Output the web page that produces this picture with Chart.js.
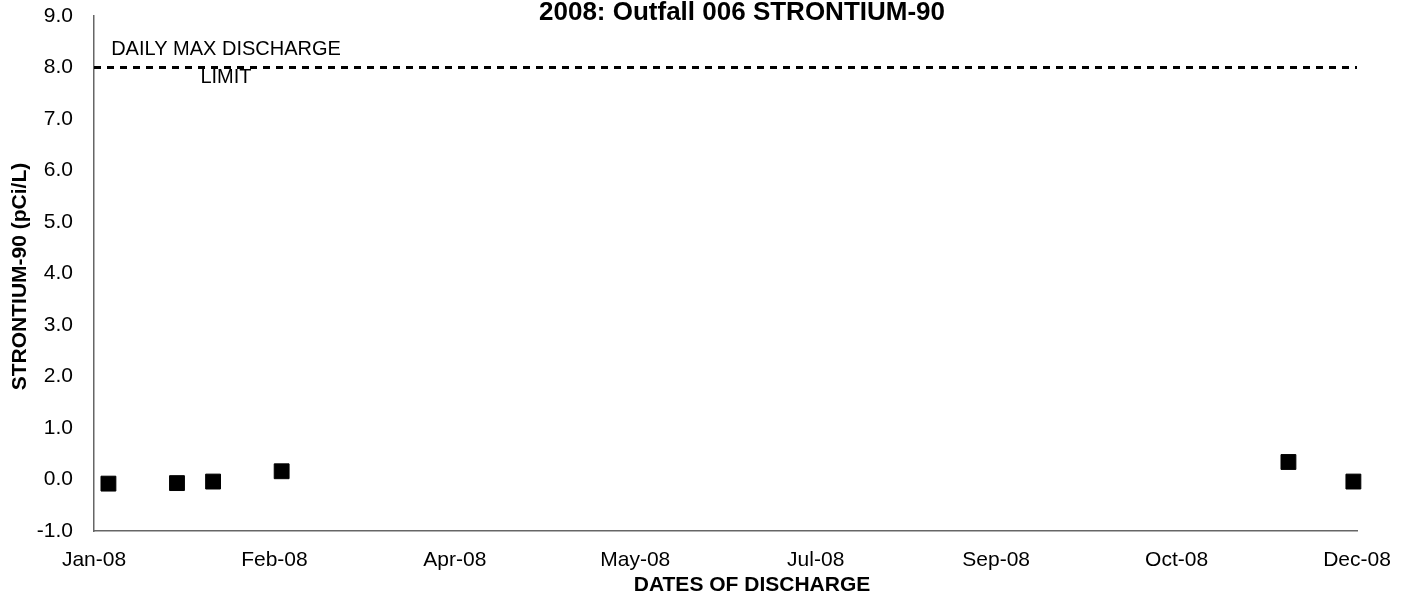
<!DOCTYPE html>
<html>
<head>
<meta charset="utf-8">
<script src="https://cdn.jsdelivr.net/npm/chart.js@4/dist/chart.umd.min.js"></script>
<style>
  html, body { margin: 0; padding: 0; background: #fff; }
  #wrap { width: 1407px; height: 594px; position: relative; }
</style>
</head>
<body>
<div id="wrap"><canvas id="c" width="1407" height="594"></canvas></div>
<script>
// ---- data ----
const sampleDates = ["2008-01-05", "2008-01-24", "2008-02-03", "2008-02-22", "2008-11-27", "2008-12-15"];
const sr90Values = [-0.08, -0.07, -0.04, 0.16, 0.34, -0.04];
const limitValue = 8.0;
const limitLabel = ["DAILY MAX DISCHARGE", "LIMIT"];
const chartTitle = "2008: Outfall 006 STRONTIUM-90";
const xAxisTitle = "DATES OF DISCHARGE";
const yAxisTitle = "STRONTIUM-90 (pCi/L)";
const axisStartDate = "2008-01-01";
const axisSpanDays = 350;
const axisStepDays = 50;
const yMin = -1, yMax = 9, yStep = 1;
const monthNames = ["Jan","Feb","Mar","Apr","May","Jun","Jul","Aug","Sep","Oct","Nov","Dec"];

const DAY = 86400000;
const t0 = Date.UTC(2008, 0, 1);
function dayOffset(s) {
  const p = s.split("-").map(Number);
  return (Date.UTC(p[0], p[1] - 1, p[2]) - t0) / DAY;
}
function fmtDay(v) {
  const d = new Date(t0 + v * DAY);
  return monthNames[d.getUTCMonth()] + "-" + String(d.getUTCFullYear()).slice(2);
}
const startOff = dayOffset(axisStartDate);
const points = sampleDates.map((d, i) => ({ x: dayOffset(d), y: sr90Values[i] }));
const limitPts = [{ x: startOff, y: limitValue }, { x: startOff + axisSpanDays, y: limitValue }];

const FONT = "'Liberation Sans', Arial, sans-serif";

const textPlugin = {
  id: 'texts',
  afterDraw(chart) {
    const ctx = chart.ctx;
    const ca = chart.chartArea;
    const ys = chart.scales.y;
    ctx.save();
    ctx.fillStyle = '#000';
    ctx.textAlign = 'center';
    ctx.textBaseline = 'alphabetic';
    // title
    ctx.font = "bold 26px " + FONT;
    ctx.fillText(chartTitle, 742, 20);
    // x title
    ctx.font = "bold 21px " + FONT;
    ctx.fillText(xAxisTitle, 752, 591);
    // y title
    ctx.save();
    ctx.translate(26, (ca.top + ca.bottom) / 2 + 3);
    ctx.rotate(-Math.PI / 2);
    ctx.font = "bold 21px " + FONT;
    ctx.fillText(yAxisTitle, 0, 0);
    ctx.restore();
    // limit label
    ctx.font = "20px " + FONT;
    const ly = ys.getPixelForValue(limitValue);
    ctx.fillText(limitLabel[0], 226, ly - 13);
    ctx.fillText(limitLabel[1], 226, ly + 15);
    ctx.restore();
  }
};

new Chart(document.getElementById('c'), {
  type: 'scatter',
  data: {
    datasets: [
      {
        label: 'Sr-90',
        data: points,
        pointStyle: 'rect',
        pointRadius: 10.5,
        pointBackgroundColor: '#000',
        pointBorderColor: '#000',
        pointBorderWidth: 1,
        showLine: false,
        clip: false,
        order: 0
      },
      {
        label: 'limit',
        data: limitPts,
        showLine: true,
        borderColor: '#000',
        borderWidth: 3,
        borderDash: [7, 6],
        pointRadius: 0,
        fill: false,
        clip: false,
        order: 1
      }
    ]
  },
  options: {
    responsive: false,
    animation: false,
    layout: { padding: { left: 0, right: 50, top: 16, bottom: 0 } },
    plugins: { legend: { display: false }, tooltip: { enabled: false }, title: { display: false } },
    scales: {
      x: {
        type: 'linear',
        min: startOff,
        max: startOff + axisSpanDays,
        afterBuildTicks(axis) {
          const t = [];
          for (let v = startOff; v <= startOff + axisSpanDays + 0.001; v += axisStepDays) t.push({ value: v });
          axis.ticks = t;
        },
        afterFit(axis) { axis.height = 63; axis.paddingLeft = 0; axis.paddingRight = 0; },
        grid: { display: false, drawOnChartArea: false, drawTicks: true, tickLength: 6, tickColor: '#000' },
        border: { display: true, color: '#666', width: 1.5 },
        ticks: {
          maxRotation: 0, autoSkip: false, padding: 11,
          color: '#000', font: { family: FONT, size: 21 },
          callback: (v) => fmtDay(v)
        }
      },
      y: {
        min: yMin, max: yMax,
        afterFit(axis) { axis.width = 94; axis.paddingTop = 0; axis.paddingBottom = 0; },
        grid: { display: false, drawOnChartArea: false, drawTicks: true, tickLength: 5, tickColor: '#000' },
        border: { display: true, color: '#666', width: 1.5 },
        ticks: {
          stepSize: yStep, padding: 16,
          color: '#000', font: { family: FONT, size: 21 },
          callback: (v) => Number(v).toFixed(1)
        }
      }
    }
  },
  plugins: [textPlugin]
});
</script>
</body>
</html>
